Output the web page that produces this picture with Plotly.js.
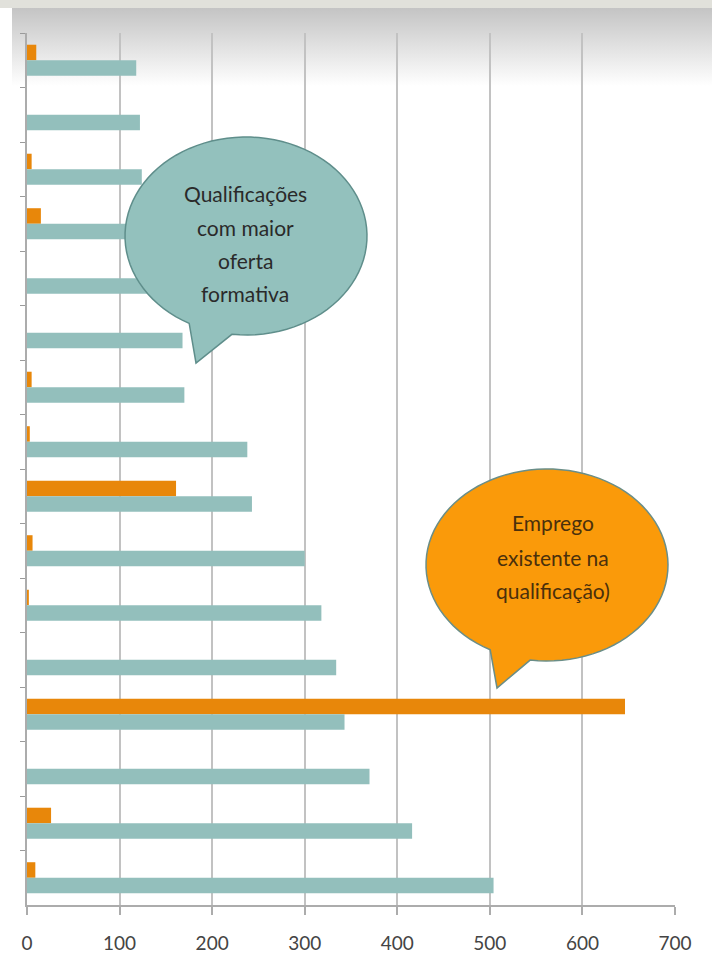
<!DOCTYPE html>
<html><head><meta charset="utf-8">
<script src="https://cdn.plot.ly/plotly-3.0.1.min.js"></script>
<style>
html,body{margin:0;padding:0;width:712px;height:960px;background:#fff;overflow:hidden}
#top{position:absolute;left:0;top:0;width:712px;height:8px;background:#e1e1db}
#grad{position:absolute;left:12px;top:8px;width:700px;height:78px;background:linear-gradient(#c4c4c4,#ffffff)}
#plot{position:absolute;left:0;top:0;width:712px;height:960px}
</style></head><body>
<div id="top"></div><div id="grad"></div><div id="plot"></div>
<script>
// categories listed top to bottom (labels are not legible in the reference)
const categories = ['Q01','Q02','Q03','Q04','Q05','Q06','Q07','Q08','Q09','Q10','Q11','Q12','Q13','Q14','Q15','Q16'];
// Oferta formativa (teal)
const ofertaFormativa = [118, 122, 124, 135, 150, 168, 170, 238, 243, 300, 318, 334, 343, 370, 416, 504];
// Emprego existente na qualificação (orange)
const empregoExistente = [10, 0, 5, 15, 0, 0, 5, 3, 161, 6, 2, 0, 646, 0, 26, 9];
const xTickVals = [0, 100, 200, 300, 400, 500, 600, 700];

const tealBubbleLines = ['Qualificações', 'com maior', 'oferta', 'formativa'];
const orangeBubbleLines = ['Emprego', 'existente na', 'qualificação)'];

// plot area in pixels
const L = 27, T = 33, W = 648, H = 872;
const px = x => (x - L) / W;
const py = y => (T + H - y) / H;

function bubblePath(cx, cy, rx, ry, a1, a2, tip) {
  let d = '';
  const n = 90;
  for (let i = 0; i <= n; i++) {
    const a = (a1 + (a2 - a1) * i / n) * Math.PI / 180;
    const x = cx + rx * Math.cos(a), y = cy + ry * Math.sin(a);
    d += (i === 0 ? 'M' : 'L') + px(x).toFixed(5) + ',' + py(y).toFixed(5) + ' ';
  }
  d += 'L' + px(tip[0]).toFixed(5) + ',' + py(tip[1]).toFixed(5) + ' Z';
  return d;
}

const traces = [
  {
    type: 'bar', orientation: 'h', name: 'Emprego existente',
    y: categories, x: empregoExistente,
    marker: {color: '#e8870a'}, hoverinfo: 'x'
  },
  {
    type: 'bar', orientation: 'h', name: 'Oferta formativa',
    y: categories, x: ofertaFormativa,
    marker: {color: '#93bfbc'}, hoverinfo: 'x'
  }
];

const shapes = [
  {type: 'path', xref: 'paper', yref: 'paper',
   path: bubblePath(246, 236, 121, 99, 118, 456.7, [196, 363]),
   fillcolor: '#93c1bd', line: {color: '#5f8e8b', width: 1.5}},
  {type: 'path', xref: 'paper', yref: 'paper',
   path: bubblePath(547, 565, 121, 96, 118, 458, [497, 688]),
   fillcolor: '#fa9a0a', line: {color: '#6a8e88', width: 1.5}}
];

const annotations = [];
const tealY = [193, 227, 260, 294];
tealBubbleLines.forEach((t, i) => annotations.push({
  xref: 'paper', yref: 'paper', x: px(245), y: py(tealY[i]), text: t, showarrow: false,
  xanchor: 'center', yanchor: 'middle', font: {family: 'Lato', size: 21, color: '#2a2a2a'}
}));
const orY = [522, 557, 590];
orangeBubbleLines.forEach((t, i) => annotations.push({
  xref: 'paper', yref: 'paper', x: px(553), y: py(orY[i]), text: t, showarrow: false,
  xanchor: 'center', yanchor: 'middle', font: {family: 'Lato', size: 21, color: '#4a300c'}
}));

const layout = {
  width: 712, height: 960,
  margin: {l: L, r: 712 - L - W, t: T, b: 960 - T - H, pad: 0},
  paper_bgcolor: 'rgba(0,0,0,0)', plot_bgcolor: 'rgba(0,0,0,0)',
  barmode: 'group', bargap: 0.43, bargroupgap: 0,
  showlegend: false,
  xaxis: {
    range: [0, 700], tickvals: xTickVals, ticktext: xTickVals.map(String),
    showgrid: true, gridcolor: '#c2c2c2', gridwidth: 2,
    showline: true, linecolor: '#acacac', linewidth: 2,
    ticks: 'outside', ticklen: 8, tickcolor: '#acacac', tickwidth: 2,
    ticklabelstandoff: 12,
    tickfont: {family: 'Liberation Sans Narrow, Lato', size: 19, color: '#444444'},
    zeroline: false, fixedrange: true
  },
  yaxis: {
    type: 'category', autorange: 'reversed',
    showline: true, linecolor: '#acacac', linewidth: 2,
    ticks: 'outside', tickson: 'boundaries', ticklen: 5, tickcolor: '#9a9a9a', tickwidth: 1,
    showticklabels: false, showgrid: false, zeroline: false, fixedrange: true
  },
  shapes: shapes,
  annotations: annotations
};

Plotly.newPlot('plot', traces, layout, {displayModeBar: false, staticPlot: true});
</script></body></html>
